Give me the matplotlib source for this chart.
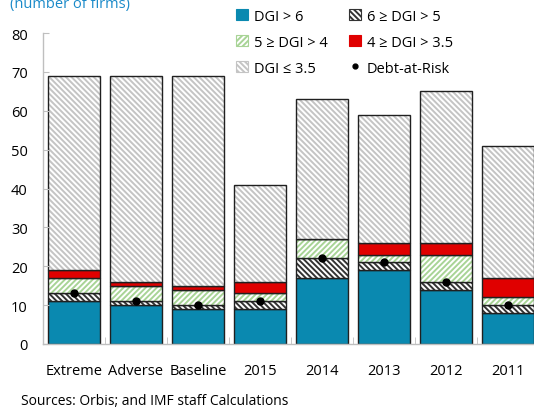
import matplotlib.pyplot as plt
import matplotlib as mpl
import numpy as np
from matplotlib.patches import Patch
from matplotlib.lines import Line2D

mpl.rcParams['font.family'] = ['Open Sans', 'DejaVu Sans']
mpl.rcParams['font.size'] = 10.5
mpl.rcParams['hatch.linewidth'] = 1.4

# data
categories = ['Extreme', 'Adverse', 'Baseline', '2015', '2014', '2013', '2012', '2011']
dgi_gt6 = [11, 10, 9, 9, 17, 19, 14, 8]
dgi_6_5 = [2, 1, 1, 2, 5, 2, 2, 2]
dgi_5_4 = [4, 4, 4, 2, 5, 2, 7, 2]
dgi_4_35 = [2, 1, 1, 3, 0, 3, 3, 5]
dgi_le35 = [50, 53, 54, 25, 36, 33, 39, 34]
debt_at_risk = [13, 11, 10, 11, 22, 21, 16, 10]

labels = ['DGI > 6', '6 \u2265 DGI > 5', '5 \u2265 DGI > 4', '4 \u2265 DGI > 3.5', 'DGI \u2264 3.5']
series = [dgi_gt6, dgi_6_5, dgi_5_4, dgi_4_35, dgi_le35]
# (face, hatch colour, hatch)
styles = [('#0a89b0', '#0a89b0', None),
          ('white', '#333333', '\\' * 6),
          ('white', '#a8d496', '/' * 6),
          ('#e00000', '#e00000', None),
          ('white', '#c4c4c4', '\\' * 6)]

fig = plt.figure(figsize=(5.34, 4.10), dpi=100)
ax = fig.add_axes([43/534, 65/410, 496/534, 311/410])

x = np.arange(len(categories))
width = 0.84
bottom = np.zeros(len(categories))
handles = []
for vals, lab, (fc, hc, hatch) in zip(series, labels, styles):
    vals = np.array(vals, dtype=float)
    ax.bar(x, vals, width, bottom=bottom, color=fc, edgecolor=hc, hatch=hatch, linewidth=0)
    ax.bar(x, vals, width, bottom=bottom, fill=False, edgecolor='#202020', linewidth=1.0)
    handles.append(Patch(facecolor=fc, edgecolor=hc, hatch=hatch, linewidth=0.8))
    bottom += vals

ax.plot(x, debt_at_risk, 'o', color='black', markersize=5, linestyle='none')
handles.append(Line2D([], [], marker='o', color='black', markersize=3.5, linestyle='none'))
labels = labels + ['Debt-at-Risk']

ax.set_xlim(-0.5, 7.5)
ax.set_ylim(0, 80)
ax.set_yticks(range(0, 81, 10))
ax.set_xticks(x)
ax.set_xticklabels(categories)
ax.set_xticks(np.arange(-0.5, 7.6, 1), minor=True)

for s in ['top', 'right']:
    ax.spines[s].set_visible(False)
for s in ['left', 'bottom']:
    ax.spines[s].set_color('#bfbfbf')
    ax.spines[s].set_linewidth(1.0)
ax.tick_params(axis='y', direction='in', length=4, color='#bfbfbf', pad=11)
ax.tick_params(axis='x', which='major', length=0, pad=14)
ax.tick_params(axis='x', which='minor', direction='in', length=5, color='#bfbfbf')

order = [0, 2, 4, 1, 3, 5]
leg = fig.legend([handles[i] for i in order], [labels[i] for i in order], ncol=2,
                 loc='upper left', bbox_to_anchor=(223/534, 1.008), frameon=False,
                 handlelength=0.8, handleheight=0.8, handletextpad=0.4,
                 columnspacing=1.5, labelspacing=0.75)

fig.text(10/534, 1 - 8/410, '(number of firms)', color='#1a8ac9', fontsize=10.5,
         va='baseline', ha='left')
fig.text(21/534, 1 - 405/410, 'Sources: Orbis; and IMF staff Calculations', fontsize=10,
         va='baseline', ha='left')

plt.savefig('out.png', dpi=100)
